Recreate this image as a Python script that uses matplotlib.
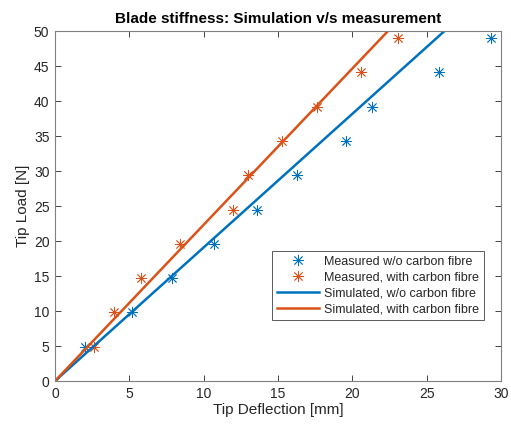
import numpy as np
import matplotlib.pyplot as plt

plt.rcParams['font.family'] = ['Liberation Sans', 'DejaVu Sans']

# measured tip load [N] and deflection [mm]
load = [0, 4.9, 9.8, 14.7, 19.6, 24.5, 29.4, 34.3, 39.2, 44.1, 49.0]
defl_plain = [0, 2.05, 5.2, 7.9, 10.7, 13.6, 16.3, 19.6, 21.3, 25.8, 29.3]
defl_carbon = [0, 2.6, 3.95, 5.8, 8.4, 12.0, 13.0, 15.3, 17.6, 20.6, 23.1]

# simulated
sim_load = [0, 10, 20, 30, 40, 50]
sim_plain = [0, 5.24, 10.48, 15.72, 20.96, 26.2]
sim_carbon = [0, 4.48, 8.96, 13.44, 17.92, 22.4]

blue = '#0072BD'
orange = '#D95319'
grey = '#262626'
star = (8, 2, 0)  # matlab-style asterisk

fig = plt.figure(figsize=(5.11, 4.25), dpi=100)
ax = fig.add_axes([0.1076, 0.1035, 0.8728, 0.8235])

ax.plot(defl_plain, load, ls='none', marker=star, color=blue, ms=8, mew=0.6,
        label='Measured w/o carbon fibre')
ax.plot(defl_carbon, load, ls='none', marker=star, color=orange, ms=8, mew=0.6,
        label='Measured, with carbon fibre')
ax.plot(sim_plain, sim_load, '-', color=blue, lw=1.8, label='Simulated, w/o carbon fibre')
ax.plot(sim_carbon, sim_load, '-', color=orange, lw=1.8, label='Simulated, with carbon fibre')

ax.set_xlim(0, 30)
ax.set_ylim(0, 50)
ax.set_xticks(np.arange(0, 31, 5))
ax.set_yticks(np.arange(0, 51, 5))
ax.tick_params(direction='in', top=True, right=True, length=4, width=0.6,
               labelsize=10, colors=grey, pad=4)
for s in ax.spines.values():
    s.set_color('#808080')
    s.set_linewidth(0.8)

ax.set_xlabel('Tip Deflection [mm]', fontsize=11, color=grey, labelpad=2)
ax.set_ylabel('Tip Load [N]', fontsize=11, color=grey, labelpad=3)
ax.set_title('Blade stiffness: Simulation v/s measurement', fontsize=11,
             fontweight='bold', color='black', pad=6)

leg = ax.legend(loc='lower right', bbox_to_anchor=(0.962, 0.174), borderaxespad=0,
                fontsize=9, labelspacing=0.3, handlelength=3.4, handletextpad=0.4,
                borderpad=0.4, fancybox=False, framealpha=1, edgecolor='#404040')
leg.get_frame().set_linewidth(0.6)
for t in leg.get_texts():
    t.set_color(grey)

fig.savefig('out.png', dpi=100)
